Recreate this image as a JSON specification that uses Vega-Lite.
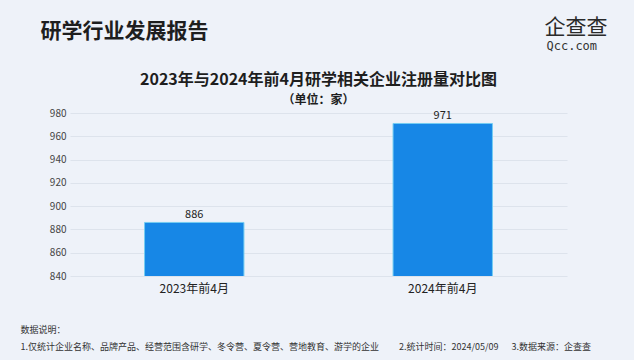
{
  "$schema": "https://vega.github.io/schema/vega-lite/v6.json",
  "width": 497,
  "height": 163,
  "padding": {"left": 20, "top": 16, "right": 27, "bottom": 10},
  "background": "#eef2f9",
  "config": {"view": {"stroke": null}, "font": "Noto Sans CJK SC"},
  "title": {
    "text": "2023年与2024年前4月研学相关企业注册量对比图",
    "subtitle": "（单位：家）",
    "anchor": "middle",
    "frame": "group",
    "font": "Noto Sans CJK SC",
    "fontSize": 16,
    "fontWeight": "bold",
    "color": "#1e1e1e",
    "subtitleFont": "Noto Sans CJK SC",
    "subtitleFontSize": 12,
    "subtitleFontWeight": "bold",
    "subtitleColor": "#1e1e1e",
    "subtitlePadding": 7,
    "offset": -95,
    "dy": -5
  },
  "data": {
    "values": [
      {"period": "2023年前4月", "count": 886},
      {"period": "2024年前4月", "count": 971}
    ]
  },
  "resolve": {"axis": {"x": "independent", "y": "independent"}},
  "layer": [
    {
      "mark": {"type": "bar", "clip": true, "color": "#1787e6", "stroke": "#74cdf2", "strokeWidth": 1},
      "encoding": {
        "x": {
          "field": "period",
          "type": "nominal",
          "sort": null,
          "scale": {"paddingInner": 0.6, "paddingOuter": 0.3},
          "axis": {
            "orient": "bottom",
            "labelAngle": 0,
            "labelFontSize": 12,
            "labelColor": "#222222",
            "labelPadding": 7,
            "ticks": false,
            "domain": false,
            "grid": false,
            "title": ["数据说明：", "1.仅统计企业名称、品牌产品、经营范围含研学、冬令营、夏令营、营地教育、游学的企业\u3000\u3000\u00a02.统计时间：2024/05/09\u3000\u00a0\u00a03.数据来源：企查查"],
            "titleFont": "Noto Sans CJK SC",
            "titleFontSize": 9,
            "titleFontWeight": "normal",
            "titleColor": "#333333",
            "titleAnchor": "start",
            "titleAlign": "left",
            "titleBaseline": "top",
            "titleX": -50,
            "titleY": 49,
            "titleLineHeight": 17,
            "titleLimit": 1000
          }
        },
        "y": {
          "field": "count",
          "type": "quantitative",
          "scale": {"domain": [840, 980], "nice": false, "zero": false},
          "axis": {
            "orient": "left",
            "values": [840, 860, 880, 900, 920, 940, 960, 980],
            "ticks": false,
            "domain": false,
            "gridColor": "#dde3ec",
            "labelFontSize": 10,
            "labelColor": "#444444",
            "labelPadding": 4,
            "title": "研学行业发展报告",
            "titleFont": "Noto Sans CJK SC",
            "titleAngle": 0,
            "titleAlign": "left",
            "titleBaseline": "middle",
            "titleX": -30,
            "titleY": -82,
            "titleFontSize": 21,
            "titleFontWeight": "bold",
            "titleColor": "#1e1e1e",
            "titleLimit": 1000
          }
        }
      }
    },
    {
      "mark": {"type": "text", "baseline": "bottom", "dy": -2, "fontSize": 11, "color": "#222222"},
      "encoding": {
        "x": {
          "field": "period",
          "type": "nominal",
          "sort": null,
          "axis": {
            "orient": "top",
            "labels": false,
            "ticks": false,
            "domain": false,
            "grid": false,
            "title": "Qcc.com",
            "titleFont": "DejaVu Sans Mono",
            "titleFontSize": 12,
            "titleFontWeight": "normal",
            "titleColor": "#333333",
            "titleAlign": "left",
            "titleBaseline": "middle",
            "titleX": 476,
            "titleY": -68
          }
        },
        "y": {
          "field": "count",
          "type": "quantitative",
          "axis": {
            "orient": "right",
            "labels": false,
            "ticks": false,
            "domain": false,
            "grid": false,
            "title": "企查查",
            "titleFont": "Noto Sans CJK SC",
            "titleFontSize": 21,
            "titleFontWeight": "normal",
            "titleColor": "#2a2a2a",
            "titleAngle": 0,
            "titleAlign": "left",
            "titleBaseline": "middle",
            "titleX": -23,
            "titleY": -86
          }
        },
        "text": {"field": "count", "type": "quantitative"}
      }
    }
  ]
}
